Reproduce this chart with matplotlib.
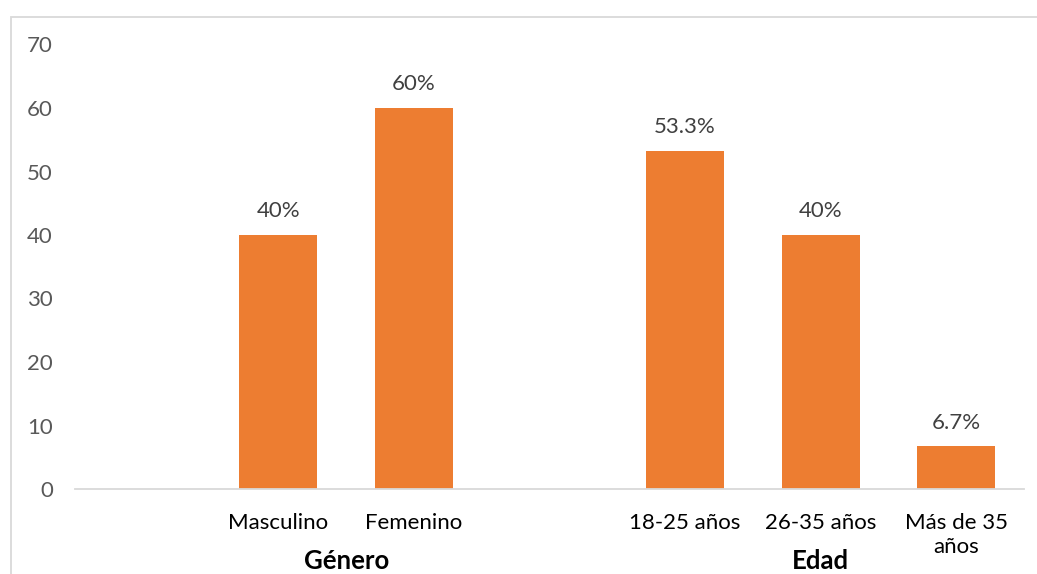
import matplotlib
matplotlib.use("Agg")
import matplotlib.pyplot as plt
from matplotlib.patches import Rectangle
from matplotlib.transforms import blended_transform_factory

# Survey profile: percentages by gender and age group
categories = ["", "Masculino", "Femenino", "", "18-25 años", "26-35 años", "Más de 35\naños"]
values = [None, 40, 60, None, 53.3, 40, 6.7]
value_labels = ["", "40%", "60%", "", "53.3%", "40%", "6.7%"]
groups = ["Género", "Edad"]
group_members = [[1, 2], [4, 5, 6]]
y_ticks = [0, 10, 20, 30, 40, 50, 60, 70]

plt.rcParams["font.family"] = ["Lato", "DejaVu Sans"]

W, H = 1037, 574
fig = plt.figure(figsize=(W / 100, H / 100), dpi=100)
ax = fig.add_axes([75 / W, 1 - 489 / H, (1024 - 75) / W, (489 - 44.5) / H])

orange = "#ED7D31"
xs = list(range(len(categories)))
for x, v, lab in zip(xs, values, value_labels):
    if v is None:
        continue
    ax.bar(x, v, width=0.575, color=orange, edgecolor="none")
    ax.annotate(lab, (x, v), xytext=(0, 10), textcoords="offset points",
                ha="center", va="bottom", fontsize=16, color="#404040")

ax.set_xlim(-0.5, len(categories) - 0.5)
ax.set_ylim(0, 70)
ax.set_yticks(y_ticks)
ax.set_yticklabels([str(t) for t in y_ticks], fontsize=16, color="#595959")
ax.set_xticks(xs)
ax.set_xticklabels(categories, fontsize=16, color="#000000", linespacing=1.25, va="top")
ax.tick_params(axis="x", length=0, pad=17)
ax.tick_params(axis="y", length=0, pad=16)

for side in ["top", "right", "left"]:
    ax.spines[side].set_visible(False)
ax.spines["bottom"].set_color("#D9D9D9")
ax.spines["bottom"].set_linewidth(1.3)

trans = blended_transform_factory(ax.transData, fig.transFigure)
for name, members in zip(groups, group_members):
    cx = sum(members) / len(members)
    ax.text(cx, 1 - 561 / H, name, transform=trans, ha="center", va="center",
            fontsize=18.5, fontweight="bold", color="#000000")

# Chart frame (extends past the right and bottom edges)
frame = Rectangle((10.5 / W, -0.05), 1.2, 1 - 16.5 / H + 0.05,
                  transform=fig.transFigure, fill=False,
                  edgecolor="#D9D9D9", linewidth=1.3, clip_on=False)
fig.patches.append(frame)

fig.savefig("out.png", dpi=100, facecolor="white")
